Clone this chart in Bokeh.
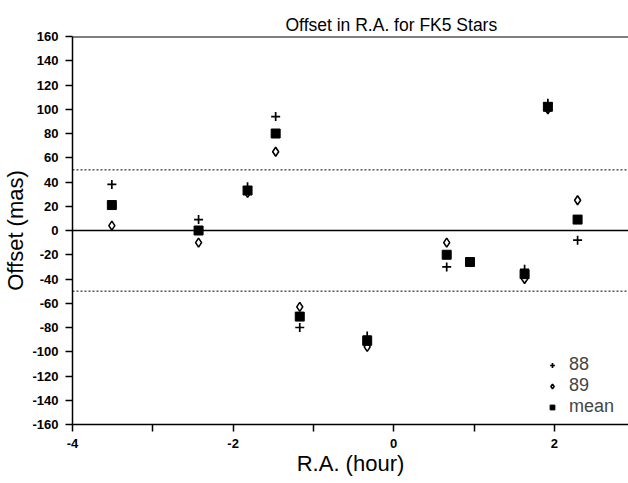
import math
from bokeh.plotting import figure
from bokeh.models import (Span, Legend, LegendItem, FixedTicker, Range1d, Title,
                          PrintfTickFormatter)
from bokeh.embed import file_html
from bokeh.resources import INLINE

# ---- data ----
ra_hour = [-3.51, -2.43, -1.82, -1.47, -1.17, -0.33, 0.66, 0.95, 1.63, 1.92, 2.29]
off_88 = [38, 9, 36, 94, -80, -87, -30, -26, -32, 105, -8]
off_89 = [4, -10, 31, 65, -63, -96, -10, -26, -40, 100, 25]
off_mean = [21, 0, 33, 80, -71, -91, -20, -26, -36, 102, 9]

x_ticks = [-4, -2, 0, 2]
x_minor = [-3, -1, 1, 3]
y_ticks = list(range(-160, 161, 20))
limits = [-50, 50]

title_text = "Offset in R.A. for FK5 Stars"
x_label = "R.A. (hour)"
y_label = "Offset (mas)"

FONT = "Liberation Sans"

p = figure(width=628, height=483, output_backend="svg", toolbar_location=None,
           x_range=Range1d(-4, 2.924), y_range=Range1d(-160, 160),
           min_border_left=72, min_border_right=0, min_border_top=36,
           min_border_bottom=59)
p.title = None
p.add_layout(Title(text=title_text, align="left", offset=213, text_font=FONT,
                   text_font_size="17.5px", text_font_style="normal",
                   text_color="black", standoff=4), "above")

p.outline_line_color = None
p.xgrid.visible = False
p.ygrid.visible = False
p.background_fill_color = "white"
p.border_fill_color = "white"

# axes
p.xaxis.ticker = FixedTicker(ticks=x_ticks, minor_ticks=x_minor)
p.yaxis.ticker = FixedTicker(ticks=y_ticks)
for ax in (p.xaxis[0], p.yaxis[0]):
    ax.formatter = PrintfTickFormatter(format="%d")
    ax.axis_line_color = "black"
    ax.axis_line_width = 1.5
    ax.major_tick_line_color = "black"
    ax.major_tick_line_width = 1.5
    ax.major_tick_in = 0
    ax.major_tick_out = 7
    ax.minor_tick_line_color = "black"
    ax.minor_tick_line_width = 1.5
    ax.minor_tick_in = 0
    ax.minor_tick_out = 7
    ax.major_label_text_font = FONT
    ax.major_label_text_font_style = "bold"
    ax.major_label_text_font_size = "13px"
    ax.major_label_text_color = "black"
    ax.axis_label_text_font = FONT
    ax.axis_label_text_font_style = "normal"
    ax.axis_label_text_font_size = "22px"
    ax.axis_label_text_color = "black"
p.yaxis.minor_tick_line_color = None
p.xaxis.major_label_standoff = 7
p.yaxis.major_label_standoff = 7
p.xaxis.axis_label = x_label
p.yaxis.axis_label = y_label
p.xaxis.axis_label_standoff = 0
p.yaxis.axis_label_standoff = 1

# reference lines
p.add_layout(Span(location=0, dimension="width", line_color="black", line_width=1.5))
for lim in limits:
    p.add_layout(Span(location=lim, dimension="width", line_color="black",
                      line_width=1, line_dash="2 2"))
p.add_layout(Span(location=160, dimension="width", line_color="black", line_width=2))

r88 = p.scatter(ra_hour, off_88, marker="cross", size=9, line_color="black", line_width=1.7)
r89 = p.scatter(ra_hour, off_89, marker="diamond", size=9,
                line_color="black", fill_color="white", line_width=1.6)
rmean = p.scatter(ra_hour, off_mean, marker="square", size=9, line_color="black",
                  fill_color="black", line_width=1)

legend = Legend(items=[LegendItem(label="88", renderers=[r88]),
                       LegendItem(label="89", renderers=[r89]),
                       LegendItem(label="mean", renderers=[rmean])],
                location=(474, 7), border_line_color=None, background_fill_alpha=0,
                label_text_font=FONT, label_text_font_size="18px",
                glyph_width=12, glyph_height=14, label_standoff=11, spacing=0,
                padding=0, margin=0, label_height=20)
p.add_layout(legend, "center")

open("out.html", "w").write(file_html(p, INLINE))
